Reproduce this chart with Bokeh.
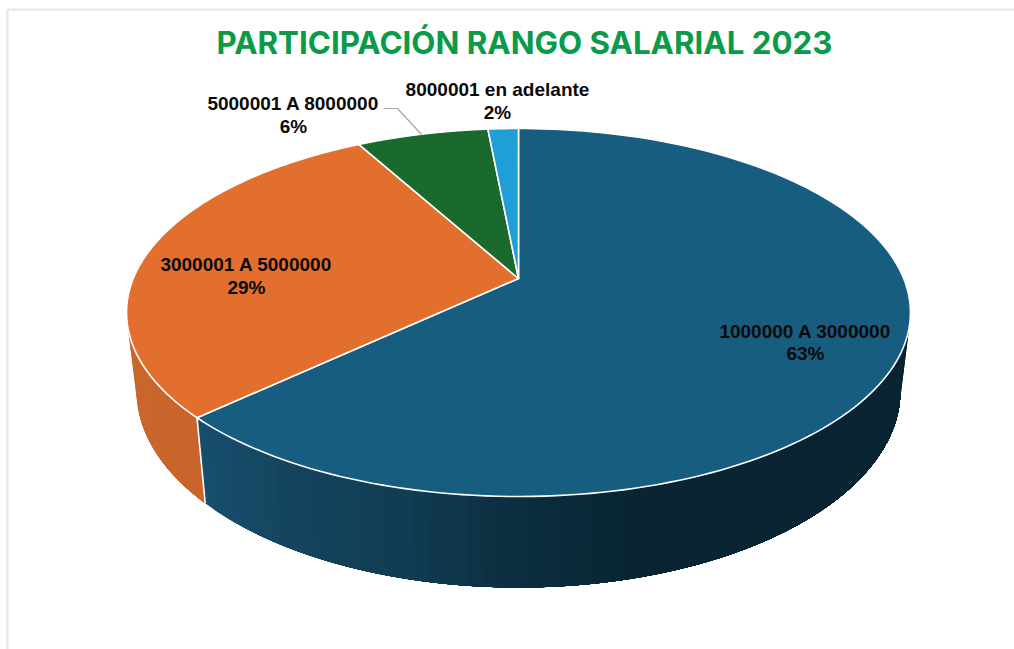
import numpy as np
from bokeh.plotting import figure
from bokeh.models import Range1d
from bokeh.core.properties import value
from bokeh.embed import file_html
from bokeh.resources import INLINE

TITLE = "PARTICIPACIÓN RANGO SALARIAL 2023"
categories = ["1000000 A 3000000", "3000001 A 5000000", "5000001 A 8000000", "8000001 en adelante"]
shares = [63.0, 29.0, 6.5, 1.5]
percent_labels = ["63%", "29%", "6%", "2%"]
top_colors = ["#175D80", "#E36F2E", "#1A6A2E", "#1F9ED8"]

# label anchors in page pixels: (x centre, y of first line, y of second line)
label_x = [805, 246, 293, 497]
label_y1 = [331, 264, 103, 89]
label_y2 = [353, 287, 126, 112]

W, H = 1014, 649
p = figure(width=W, height=H, output_backend="svg", toolbar_location=None,
           x_range=Range1d(0, W), y_range=Range1d(H, 0),
           x_axis_location=None, y_axis_location=None,
           min_border=0, outline_line_color=None)
p.xgrid.visible = False
p.ygrid.visible = False

# perspective of the top face
CX, APEX_Y = 518.0, 278.0
A, C, D = -126.35, 0.1848, 385.2


def project(frac):
    """Clockwise fraction of the pie, from 12 o'clock, to the tilted disc."""
    ang = 2 * np.pi * np.asarray(frac)
    u, v = np.sin(ang), np.cos(ang)
    den = C * v + 1
    return CX + D * u / den, (A * v + APEX_Y) / den


# ellipses of the upper and lower rim
TOP = (518.0, 312.0, 392.0, 184.0)
BOT = (518.0, 390.0, 382.0, 197.0)


def rim(t, e):
    return e[0] + e[2] * np.cos(t), e[1] + e[3] * np.sin(t)


def rim_param(frac):
    x, y = project(frac)
    return np.arctan2((y - TOP[1]) / TOP[3], (x - TOP[0]) / TOP[2])


fractions = np.cumsum([0.0] + shares) / sum(shares)
t_split = float(rim_param(fractions[1]))  # boundary blue/orange on the front wall

# front wall: blue from t=0 to the split, orange to t=pi
grad_x = [134, 207, 300, 410, 500, 640, 910]
grad_r = [22, 22, 20, 17, 13, 9, 9]
grad_g = [78, 78, 68, 60, 48, 36, 36]
grad_b = [108, 108, 94, 82, 66, 50, 50]


def blue_side(x):
    r = np.interp(x, grad_x, grad_r)
    g = np.interp(x, grad_x, grad_g)
    b = np.interp(x, grad_x, grad_b)
    return "#%02x%02x%02x" % (int(r), int(g), int(b))


def orange_side(x):
    k = np.interp(x, [127, 207], [0.0, 1.0])
    return "#%02x%02x%02x" % (int(200 + 2 * k), int(103 - 3 * k), int(44 - 2 * k))


def wall(t0, t1, n, colour):
    # each band runs on to the far end of the wall and is overpainted by the
    # next one, so that no hairline seams show between the bands
    ts = np.linspace(t0, t1, n + 1)
    for a, b in zip(ts[:-1], ts[1:]):
        tt = np.linspace(a, t1, max(2, int(abs(t1 - a) * 80)))
        xt, yt = rim(tt, TOP)
        xb, yb = rim(tt[::-1], BOT)
        mid = (a + b) / 2
        xm = (rim(mid, TOP)[0] + rim(mid, BOT)[0]) / 2
        p.patch(np.r_[xt, xb], np.r_[yt, yb], fill_color=colour(xm), line_color=None)


wall(t_split, 0.0, 70, blue_side)
wall(np.pi, t_split, 12, orange_side)

# white seam on the front wall
sx0, sy0 = rim(t_split, TOP)
sx1, sy1 = rim(t_split, BOT)
p.line([sx0, sx1], [sy0, sy1], line_color="white", line_width=1.6)

# top face
for i, col in enumerate(top_colors):
    fr = np.linspace(fractions[i], fractions[i + 1], 160)
    x, y = project(fr)
    p.patch(np.r_[CX, x], np.r_[APEX_Y, y], fill_color=col,
            line_color="white", line_width=1.6, line_join="round")

# leader line of the 5000001 label
lead_x = [383, 397, 421]
lead_y = [108, 108, 134]
p.line(lead_x, lead_y, line_color="#A6A6A6", line_width=1.2)

# labels
for xs_, ys_, txt in ((label_x, label_y1, categories), (label_x, label_y2, percent_labels)):
    p.text(xs_, ys_, text=txt, text_align="center", text_baseline="middle",
           text_font=value("Liberation Sans"), text_font_style="bold",
           text_font_size="19px", text_color="#0A0A0A")

# title
p.text([524], [42], text=[TITLE], text_align="center", text_baseline="middle",
       text_font=value("Inter"), text_font_style="bold",
       text_font_size="31.3px", text_color="#0A9A48")

# sheet border
p.segment([7, 7], [9, 9], [1014, 7], [9, 649], line_color="#E6E6E6", line_width=2)

open("out.html", "w").write(file_html(p, INLINE))
